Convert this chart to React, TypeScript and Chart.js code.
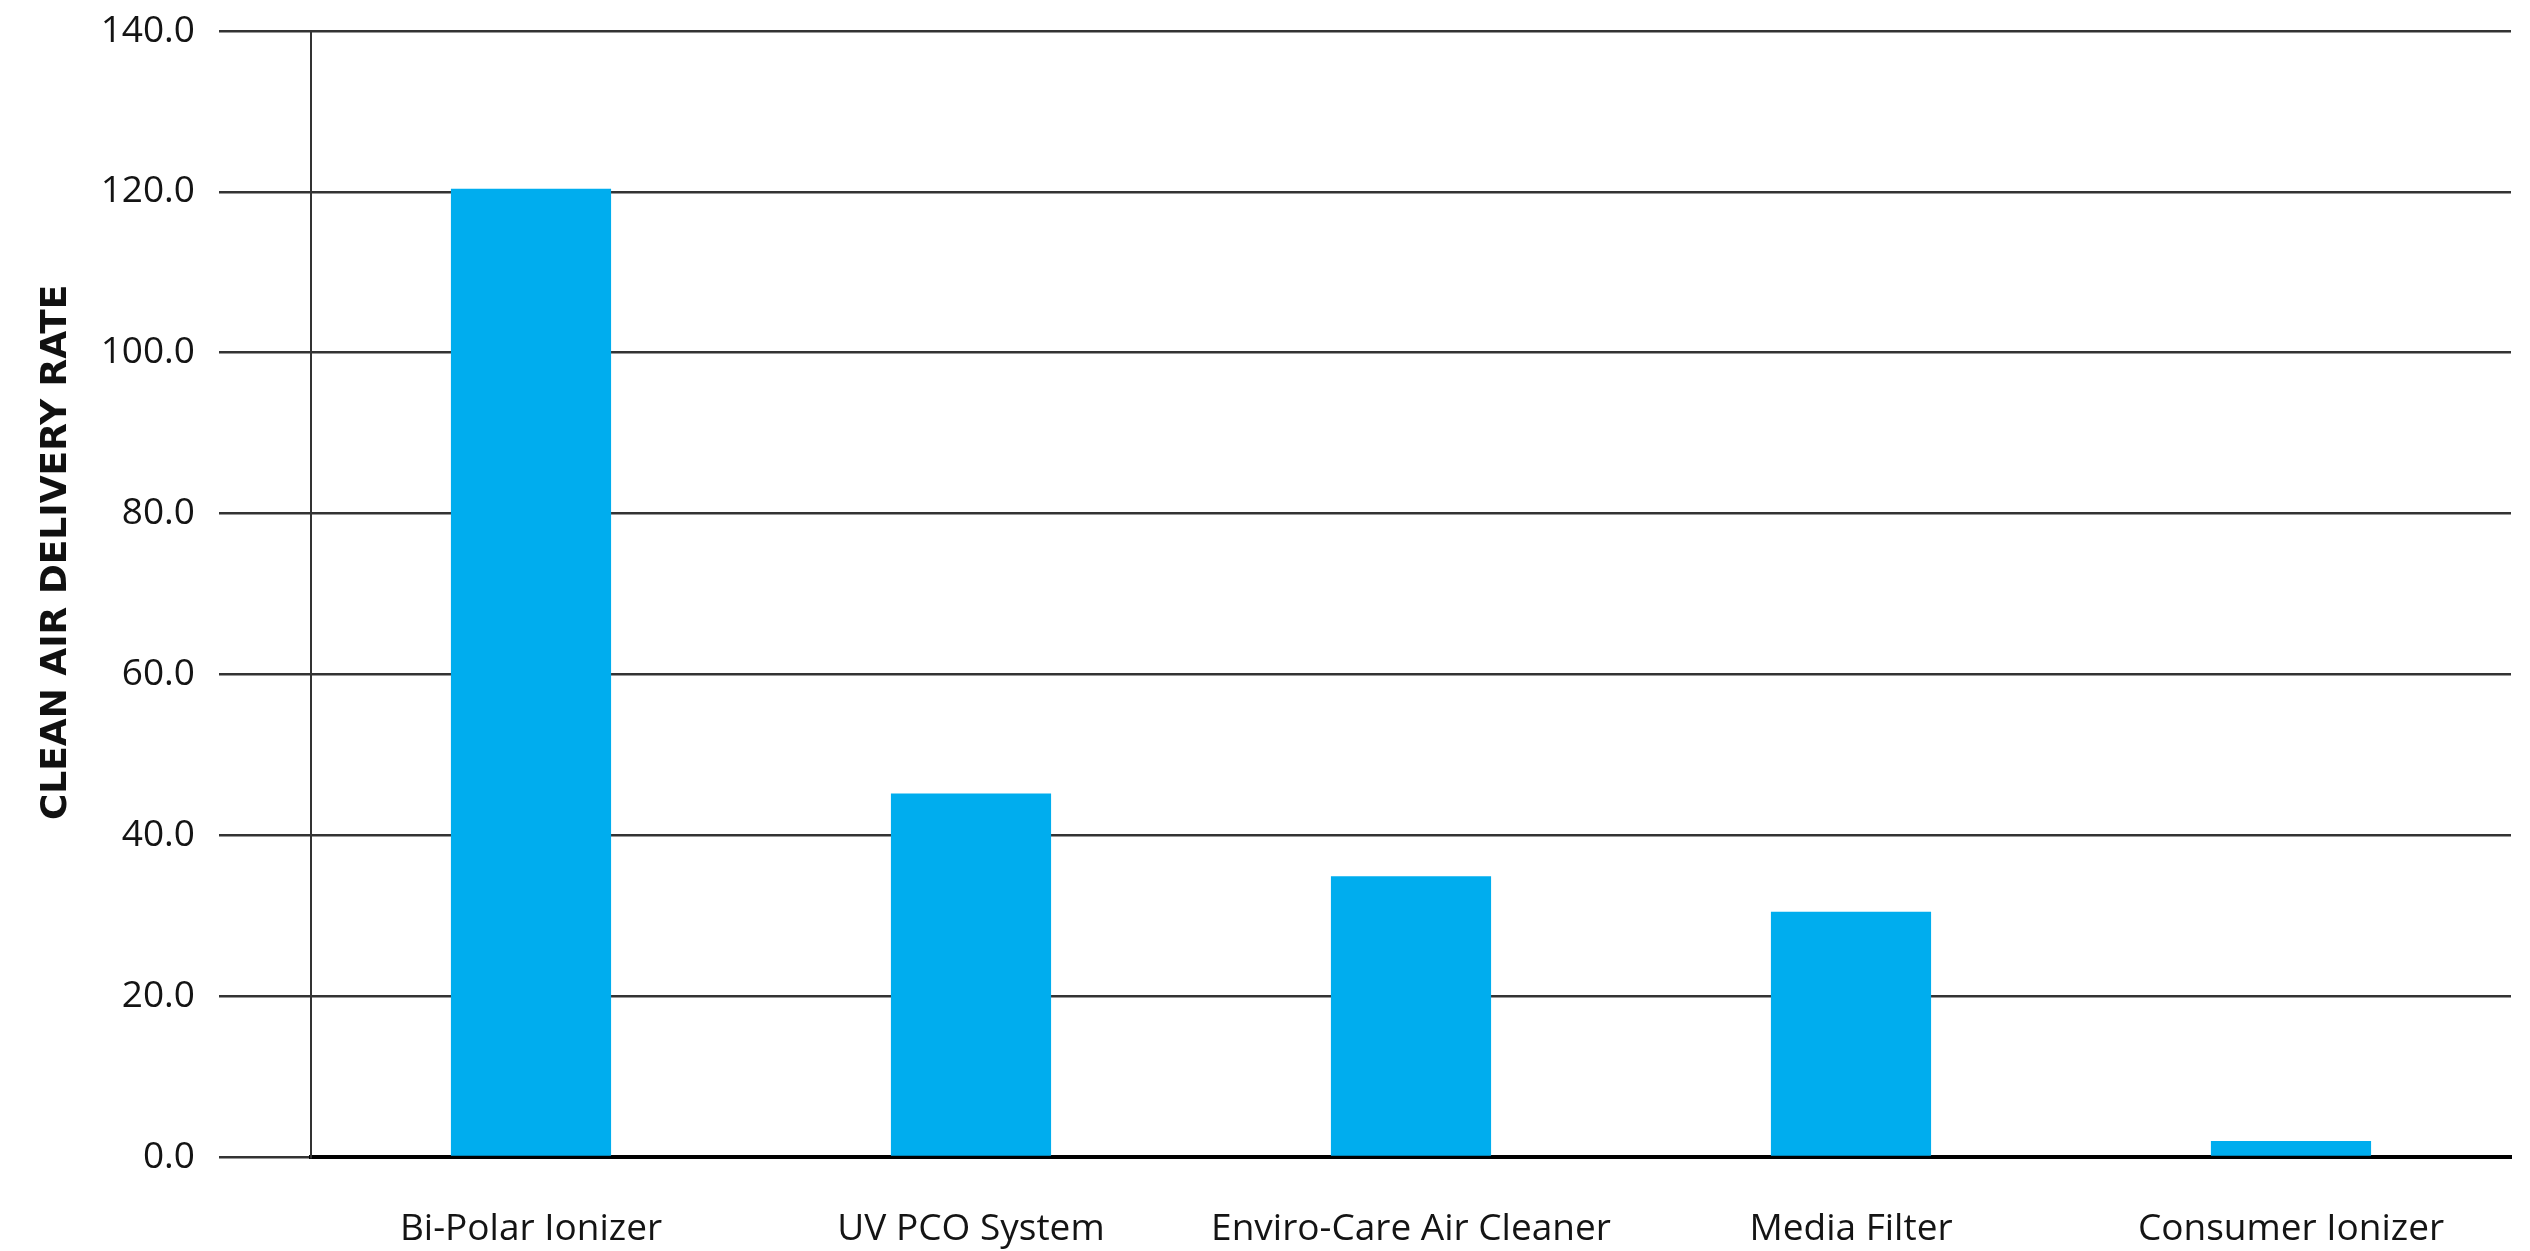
import React, { useEffect, useRef } from "react";
import { Chart, registerables } from "chart.js";

Chart.register(...registerables);

const categories = [
  "Bi-Polar Ionizer",
  "UV PCO System",
  "Enviro-Care Air Cleaner",
  "Media Filter",
  "Consumer Ionizer",
];
const cadrValues = [120.4, 45.2, 34.9, 30.5, 2.0];
const yTicks = [0, 20, 40, 60, 80, 100, 120, 140];
const yTitle = "CLEAN AIR DELIVERY RATE";

const BAR_COLOR = "#00ADEE";
const GRID_COLOR = "#333333";
const TEXT_COLOR = "#141414";
const FONT_FAMILY = "'Open Sans', 'Noto Sans', sans-serif";

const yTitlePlugin = {
  id: "yTitlePlugin",
  afterDraw(chart: any) {
    const { ctx, chartArea } = chart;
    const cy = chartArea.top + (chartArea.bottom - chartArea.top) * 0.463;
    ctx.save();
    ctx.translate(57, cy);
    ctx.rotate(-Math.PI / 2);
    ctx.font = `bold 36px 'DejaVu Sans', sans-serif`;
    ctx.fillStyle = "#111111";
    ctx.textAlign = "center";
    ctx.textBaseline = "middle";
    ctx.fillText(yTitle, 0, 0);
    ctx.restore();
  },
};

export default function App() {
  const canvasRef = useRef<HTMLCanvasElement | null>(null);

  useEffect(() => {
    document.body.style.margin = "0";
    const canvas = canvasRef.current;
    if (!canvas) return;
    const chart = new Chart(canvas, {
      type: "bar",
      data: {
        labels: categories,
        datasets: [
          {
            label: yTitle,
            data: cadrValues,
            backgroundColor: BAR_COLOR,
            borderWidth: 0,
            categoryPercentage: 1,
            barPercentage: 0.364,
          },
        ],
      },
      options: {
        animation: false,
        responsive: true,
        maintainAspectRatio: false,
        devicePixelRatio: 1,
        layout: { padding: { top: 31, right: 19, bottom: 0, left: 0 } },
        plugins: {
          legend: { display: false },
          tooltip: { enabled: false },
          title: { display: false },
        },
        scales: {
          x: {
            afterFit(scale: any) {
              scale.height = 94;
            },
            grid: { display: false, drawTicks: false },
            border: { display: true, color: "#000000", width: 4 },
            ticks: {
              color: TEXT_COLOR,
              padding: 50,
              maxRotation: 0,
              autoSkip: false,
              font: { family: FONT_FAMILY, size: 37 },
            },
          },
          y: {
            min: yTicks[0],
            max: yTicks[yTicks.length - 1],
            afterFit(scale: any) {
              scale.width = 311;
              scale.paddingTop = 0;
              scale.paddingBottom = 0;
            },
            afterBuildTicks(scale: any) {
              scale.ticks = yTicks.map((v) => ({ value: v }));
            },
            grid: {
              color: GRID_COLOR,
              lineWidth: 2.5,
              drawTicks: true,
              tickLength: 92,
              tickColor: GRID_COLOR,
            },
            border: { display: true, color: GRID_COLOR, width: 2 },
            ticks: {
              color: TEXT_COLOR,
              padding: 24,
              font: { family: FONT_FAMILY, size: 37 },
              callback: (v: any) => Number(v).toFixed(1),
            },
            title: { display: false },
          },
        },
      },
      plugins: [yTitlePlugin],
    });
    return () => chart.destroy();
  }, []);

  return (
    <div style={{ width: "2530px", height: "1251px", position: "relative", background: "#ffffff" }}>
      <canvas ref={canvasRef} style={{ display: "block" }} />
    </div>
  );
}
